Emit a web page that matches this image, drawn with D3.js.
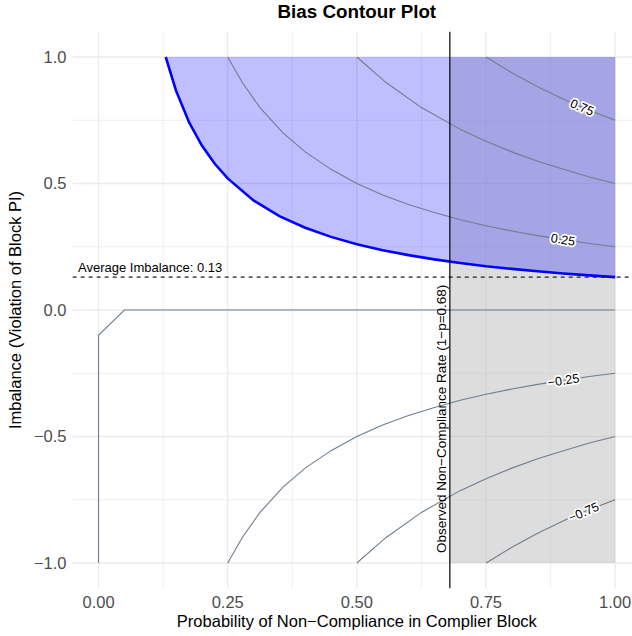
<!DOCTYPE html>
<html><head><meta charset="utf-8">
<script src="https://cdn.jsdelivr.net/npm/d3@7"></script>
<style>body{margin:0;background:#fff}svg{display:block}text{font-family:"Liberation Sans",Arial,sans-serif}</style>
</head><body>
<svg id="c" width="632" height="636"></svg>
<script>
// ---- data ----
const xTicks = [0, 0.25, 0.5, 0.75, 1];
const xTickLabels = ["0.00", "0.25", "0.50", "0.75", "1.00"];
const yTicks = [-1, -0.5, 0, 0.5, 1];
const yTickLabels = ["\u22121.0", "\u22120.5", "0.0", "0.5", "1.0"];
const avgImbalance = 0.13;
const observedRate = 0.68;
// boundary curve (blue)
const boundary = [[0.13,1.0],[0.15,0.867],[0.175,0.743],[0.2,0.65],[0.225,0.578],[0.25,0.52],[0.3,0.433],[0.35,0.371],[0.4,0.325],[0.45,0.289],[0.5,0.26],[0.55,0.236],[0.6,0.217],[0.65,0.2],[0.7,0.186],[0.75,0.173],[0.8,0.1625],[0.85,0.153],[0.9,0.144],[0.95,0.137],[1.0,0.13]];
// contour lines
const contourLevels = [0.75, 0.5, 0.25, 0, -0.25, -0.5, -0.75];
const cPos75 = [[0.75,1],[0.8,0.9375],[0.85,0.882],[0.9,0.833],[0.95,0.789],[1,0.75]];
const cPos50 = [[0.5,1],[0.556,0.9],[0.625,0.8],[0.7,0.714],[0.75,0.667],[0.8,0.625],[0.85,0.588],[0.9,0.556],[0.95,0.526],[1,0.5]];
const cPos25 = [[0.25,1],[0.278,0.9],[0.3125,0.8],[0.357,0.7],[0.4,0.625],[0.45,0.556],[0.5,0.5],[0.55,0.4545],[0.6,0.417],[0.65,0.385],[0.7,0.357],[0.75,0.333],[0.8,0.3125],[0.85,0.294],[0.9,0.278],[0.95,0.263],[1,0.25]];
const cZero = [[0,-1],[0,-0.1],[0.05,0],[1,0]];
const cNeg25 = [[0.25,-1],[0.278,-0.9],[0.3125,-0.8],[0.357,-0.7],[0.4,-0.625],[0.45,-0.556],[0.5,-0.5],[0.55,-0.4545],[0.6,-0.417],[0.65,-0.385],[0.7,-0.357],[0.75,-0.333],[0.8,-0.3125],[0.85,-0.294],[0.9,-0.278],[0.95,-0.263],[1,-0.25]];
const cNeg50 = [[0.5,-1],[0.556,-0.9],[0.625,-0.8],[0.7,-0.714],[0.75,-0.667],[0.8,-0.625],[0.85,-0.588],[0.9,-0.556],[0.95,-0.526],[1,-0.5]];
const cNeg75 = [[0.75,-1],[0.8,-0.9375],[0.85,-0.882],[0.9,-0.833],[0.95,-0.789],[1,-0.75]];
const contourLines = [cPos75, cPos50, cPos25, cZero, cNeg25, cNeg50, cNeg75];
// contour labels: level, x position along line
const labelLevels = [0.75, 0.25, -0.25, -0.75];
const labelTexts = ["0.75", "0.25", "\u22120.25", "\u22120.75"];
const labelX = [0.936, 0.899, 0.90, 0.939];

// ---- layout ----
const svg = d3.select("#c");
const x = d3.scaleLinear().domain([-0.05, 1.05]).range([72.7, 641]);
const y = d3.scaleLinear().domain([-1.1, 1.1]).range([588.3, 31.7]);
const grid = "#ebebeb";
const g = svg.append("g");

// minor grid
const xMinor = [0.125, 0.375, 0.625, 0.875];
const yMinor = [-0.75, -0.25, 0.25, 0.75];
g.selectAll(".xm").data(xMinor).join("line").attr("x1", d=>x(d)).attr("x2", d=>x(d))
  .attr("y1", y.range()[0]).attr("y2", y.range()[1]).attr("stroke", grid).attr("stroke-width", 0.8);
g.selectAll(".ym").data(yMinor).join("line").attr("y1", d=>y(d)).attr("y2", d=>y(d))
  .attr("x1", x.range()[0]).attr("x2", x.range()[1]).attr("stroke", grid).attr("stroke-width", 0.8);
// major grid
g.selectAll(".xM").data(xTicks).join("line").attr("x1", d=>x(d)).attr("x2", d=>x(d))
  .attr("y1", y.range()[0]).attr("y2", y.range()[1]).attr("stroke", grid).attr("stroke-width", 1.3);
g.selectAll(".yM").data(yTicks).join("line").attr("y1", d=>y(d)).attr("y2", d=>y(d))
  .attr("x1", x.range()[0]).attr("x2", x.range()[1]).attr("stroke", grid).attr("stroke-width", 1.3);

// gray observed region
g.append("rect").attr("x", x(observedRate)).attr("y", y(1)).attr("width", x(1)-x(observedRate))
  .attr("height", y(-1)-y(1)).attr("fill", "#bbbbbb").attr("fill-opacity", 0.5);

// blue region above curve
const area = d3.area().x(d=>x(d[0])).y0(y(1)).y1(d=>y(d[1]));
g.append("path").datum(boundary).attr("d", area).attr("fill", "#0000ff").attr("fill-opacity", 0.25);

// contour lines
const line = d3.line().x(d=>x(d[0])).y(d=>y(d[1]));
g.selectAll(".ct").data(contourLines).join("path").attr("d", line)
  .attr("fill", "none").attr("stroke", "#6f7d8e").attr("stroke-width", 1.1);

// blue boundary line
g.append("path").datum(boundary).attr("d", line).attr("fill", "none")
  .attr("stroke", "#0000ff").attr("stroke-width", 2.6);

// avg imbalance dashed line
g.append("line").attr("x1", x.range()[0]).attr("x2", x.range()[1])
  .attr("y1", y(avgImbalance)).attr("y2", y(avgImbalance))
  .attr("stroke", "#222").attr("stroke-width", 1.1).attr("stroke-dasharray", "4,4");
// observed vline
g.append("line").attr("x1", x(observedRate)).attr("x2", x(observedRate))
  .attr("y1", y.range()[0]).attr("y2", y.range()[1]).attr("stroke", "#000").attr("stroke-width", 1.2);

// contour labels
labelLevels.forEach((lv, i) => {
  const pts = contourLines[contourLevels.indexOf(lv)];
  const lx = labelX[i];
  let k = 0;
  while (k < pts.length - 2 && pts[k+1][0] < lx) k++;
  const a = pts[k], b = pts[k+1];
  const t = (lx - a[0]) / (b[0] - a[0]);
  const ly = a[1] + t*(b[1]-a[1]);
  const ang = Math.atan2(y(b[1]) - y(a[1]), x(b[0]) - x(a[0])) * 180 / Math.PI;
  g.append("text").attr("transform", `translate(${x(lx)},${y(ly)}) rotate(${ang})`)
    .attr("text-anchor", "middle").attr("dy", "0.35em").attr("font-size", 12.5)
    .attr("stroke", "#fff").attr("stroke-width", 3.5).attr("stroke-linejoin", "round").attr("fill", "#fff")
    .text(labelTexts[i]);
  g.append("text").attr("transform", `translate(${x(lx)},${y(ly)}) rotate(${ang})`)
    .attr("text-anchor", "middle").attr("dy", "0.35em").attr("font-size", 12.5).attr("fill", "#000").text(labelTexts[i]);
});

// annotations
g.append("text").attr("x", 78).attr("y", y(avgImbalance) - 5).attr("font-size", 13).attr("fill", "#000")
  .text("Average Imbalance: " + avgImbalance.toFixed(2));
g.append("text").attr("transform", `translate(${x(observedRate) - 3.5},${y(-0.43)}) rotate(-90)`)
  .attr("text-anchor", "middle").attr("font-size", 13.5).attr("fill", "#000")
  .text("Observed Non\u2212Compliance Rate (1\u2212p=" + observedRate.toFixed(2) + ")");

// axes tick labels
g.selectAll(".xl").data(xTicks).join("text").attr("x", d=>x(d)).attr("y", 608)
  .attr("text-anchor", "middle").attr("font-size", 16.5).attr("fill", "#4d4d4d").text((d,i)=>xTickLabels[i]);
g.selectAll(".yl").data(yTicks).join("text").attr("x", 66.5).attr("y", d=>y(d)).attr("dy", "0.36em")
  .attr("text-anchor", "end").attr("font-size", 16.5).attr("fill", "#4d4d4d").text((d,i)=>yTickLabels[i]);

// titles
svg.append("text").attr("x", (x.range()[0]+x.range()[1])/2).attr("y", 18).attr("text-anchor", "middle")
  .attr("font-size", 18.8).attr("font-weight", "bold").attr("fill", "#000").text("Bias Contour Plot");
svg.append("text").attr("x", (x.range()[0]+x.range()[1])/2).attr("y", 627).attr("text-anchor", "middle")
  .attr("font-size", 16.5).attr("fill", "#000").text("Probability of Non\u2212Compliance in Complier Block");
svg.append("text").attr("transform", `translate(21,${(y.range()[0]+y.range()[1])/2}) rotate(-90)`)
  .attr("text-anchor", "middle").attr("font-size", 16.5).attr("fill", "#000").text("Imbalance (Violation of Block PI)");
</script>
</body></html>
